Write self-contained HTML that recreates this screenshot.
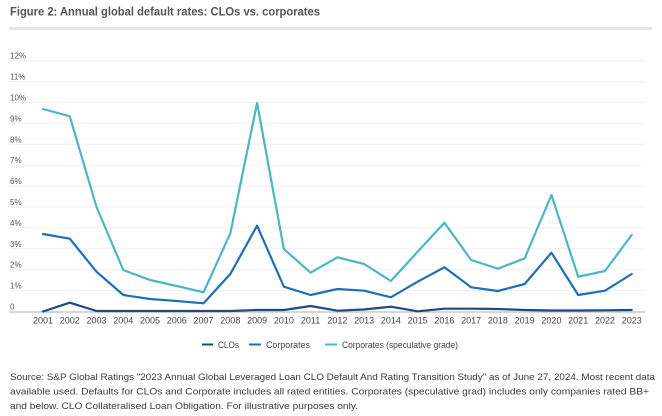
<!DOCTYPE html>
<html><head><meta charset="utf-8"><style>
html,body{margin:0;padding:0;background:#fff;}
svg{display:block;font-family:"Liberation Sans",Arial,sans-serif;}
</style></head><body>
<svg width="662" height="416" viewBox="0 0 662 416" xmlns="http://www.w3.org/2000/svg">
<text x="10" y="15.5" font-size="11.5" font-weight="bold" fill="#555" textLength="310" lengthAdjust="spacingAndGlyphs">Figure 2: Annual global default rates: CLOs vs. corporates</text>
<line x1="9" y1="28.5" x2="652" y2="28.5" stroke="#e6e6e6" stroke-width="3"/>
<g stroke="#efefef" stroke-width="1">
<line x1="9" y1="290.6" x2="645" y2="290.6"/>
<line x1="9" y1="269.7" x2="645" y2="269.7"/>
<line x1="9" y1="248.8" x2="645" y2="248.8"/>
<line x1="9" y1="227.9" x2="645" y2="227.9"/>
<line x1="9" y1="207.0" x2="645" y2="207.0"/>
<line x1="9" y1="186.1" x2="645" y2="186.1"/>
<line x1="9" y1="165.2" x2="645" y2="165.2"/>
<line x1="9" y1="144.3" x2="645" y2="144.3"/>
<line x1="9" y1="123.4" x2="645" y2="123.4"/>
<line x1="9" y1="102.5" x2="645" y2="102.5"/>
<line x1="9" y1="81.6" x2="645" y2="81.6"/>
<line x1="9" y1="60.7" x2="645" y2="60.7"/>
</g>
<line x1="9" y1="312" x2="645" y2="312" stroke="#bdbdbd" stroke-width="1.2"/>
<g font-size="8" fill="#555">
<text x="10" y="309.5">0</text>
<text x="10" y="288.6">1%</text>
<text x="10" y="267.7">2%</text>
<text x="10" y="246.8">3%</text>
<text x="10" y="225.9">4%</text>
<text x="10" y="205.0">5%</text>
<text x="10" y="184.1">6%</text>
<text x="10" y="163.2">7%</text>
<text x="10" y="142.3">8%</text>
<text x="10" y="121.4">9%</text>
<text x="10" y="100.5">10%</text>
<text x="10" y="79.6">11%</text>
<text x="10" y="58.7">12%</text>
</g>
<g font-size="9" fill="#444" text-anchor="middle">
<text x="43" y="323.5">2001</text>
<text x="69.76" y="323.5">2002</text>
<text x="96.52" y="323.5">2003</text>
<text x="123.28" y="323.5">2004</text>
<text x="150.04" y="323.5">2005</text>
<text x="176.8" y="323.5">2006</text>
<text x="203.56" y="323.5">2007</text>
<text x="230.32" y="323.5">2008</text>
<text x="257.08" y="323.5">2009</text>
<text x="283.84" y="323.5">2010</text>
<text x="310.6" y="323.5">2011</text>
<text x="337.36" y="323.5">2012</text>
<text x="364.12" y="323.5">2013</text>
<text x="390.88" y="323.5">2014</text>
<text x="417.64" y="323.5">2015</text>
<text x="444.4" y="323.5">2016</text>
<text x="471.16" y="323.5">2017</text>
<text x="497.92" y="323.5">2018</text>
<text x="524.68" y="323.5">2019</text>
<text x="551.44" y="323.5">2020</text>
<text x="578.2" y="323.5">2021</text>
<text x="604.96" y="323.5">2022</text>
<text x="631.72" y="323.5">2023</text>
</g>
<g fill="none" stroke-width="2.2" stroke-linejoin="round" stroke-linecap="round">
<polyline stroke="#4ab6c6" points="43,109 69.76,116.3 96.52,207 123.28,270 150.04,280 176.8,286 203.56,292.3 230.32,233.3 257.08,103 283.84,249 310.6,272.7 337.36,257.3 364.12,264 390.88,281 417.64,251.7 444.4,222.7 471.16,260 497.92,268.7 524.68,258.3 551.44,195 578.2,276.7 604.96,271 631.72,235"/>
<polyline stroke="#1f6fb6" points="43,234 69.76,238.7 96.52,271.7 123.28,295 150.04,299 176.8,301 203.56,303.3 230.32,274 257.08,225.7 283.84,286.7 310.6,295 337.36,289 364.12,290.7 390.88,297.3 417.64,281.7 444.4,267.3 471.16,287.3 497.92,291 524.68,284 551.44,252.7 578.2,295 604.96,290.7 631.72,274"/>
<polyline stroke="#1c4b7c" points="43,311.5 69.76,302.7 96.52,311 123.28,311 150.04,311 176.8,311 203.56,311 230.32,311 257.08,310 283.84,310 310.6,306 337.36,310.7 364.12,309.5 390.88,306.7 417.64,311.3 444.4,308.7 471.16,308.7 497.92,309 524.68,310 551.44,310.5 578.2,310.5 604.96,310.3 631.72,310"/>
</g>
<g font-size="9" fill="#444">
<line x1="202" y1="344.5" x2="213" y2="344.5" stroke="#1c4b7c" stroke-width="2"/>
<text x="218" y="347.8" textLength="21" lengthAdjust="spacingAndGlyphs">CLOs</text>
<line x1="249" y1="344.5" x2="261" y2="344.5" stroke="#1f6fb6" stroke-width="2"/>
<text x="266" y="347.8" textLength="44" lengthAdjust="spacingAndGlyphs">Corporates</text>
<line x1="325" y1="344.5" x2="337" y2="344.5" stroke="#4ab6c6" stroke-width="2"/>
<text x="342" y="347.8" textLength="116" lengthAdjust="spacingAndGlyphs">Corporates (speculative grade)</text>
</g>
<g font-size="9.5" fill="#3a3a3a">
<text x="10" y="380" textLength="645" lengthAdjust="spacingAndGlyphs">Source: S&amp;P Global Ratings "2023 Annual Global Leveraged Loan CLO Default And Rating Transition Study" as of June 27, 2024. Most recent data</text>
<text x="10" y="394.5" textLength="639" lengthAdjust="spacingAndGlyphs">available used. Defaults for CLOs and Corporate includes all rated entities.  Corporates (speculative grad) includes only companies rated BB+</text>
<text x="10" y="409" textLength="348" lengthAdjust="spacingAndGlyphs">and below. CLO Collateralised Loan Obligation. For illustrative purposes only.</text>
</g>
</svg>
</body></html>
